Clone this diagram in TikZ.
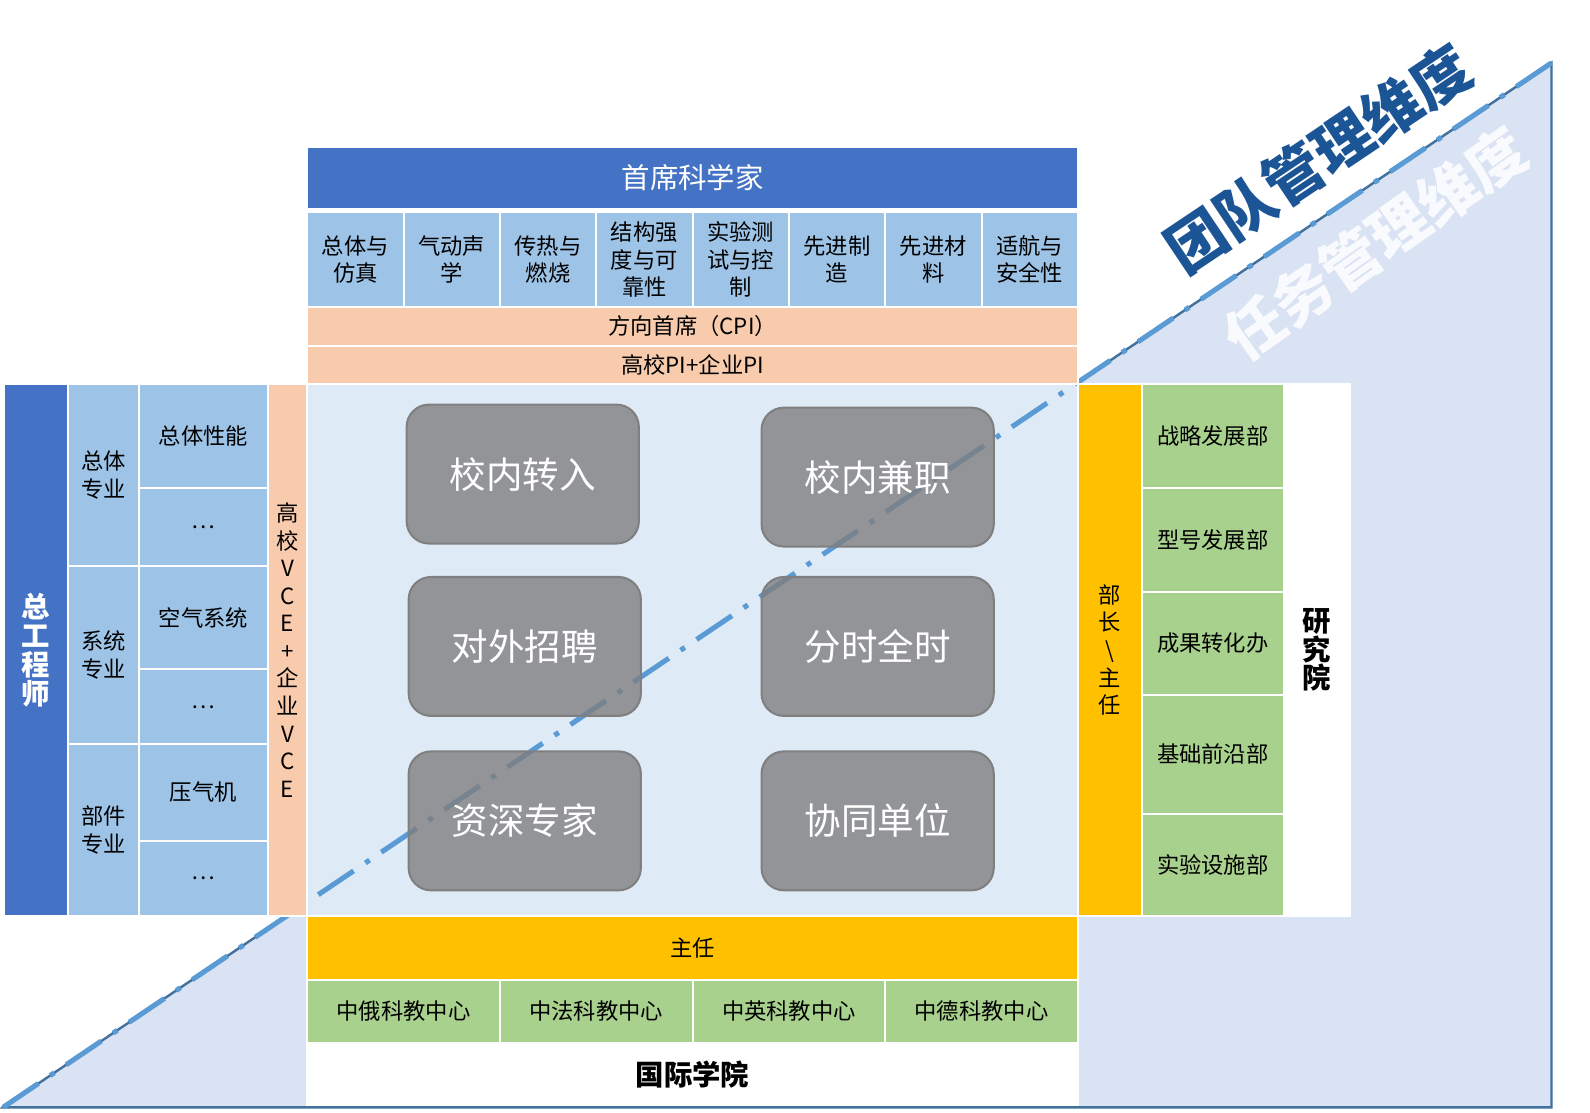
\documentclass[tikz,border=0pt]{standalone}
\usepackage{fontspec}
\setmainfont{Noto Sans CJK SC}
\definecolor{cBlue}{HTML}{4472C4}
\definecolor{cLBlue}{HTML}{9DC3E6}
\definecolor{cPeach}{HTML}{F8CBAD}
\definecolor{cCenter}{HTML}{DEEBF7}
\definecolor{cOrange}{HTML}{FFC000}
\definecolor{cGreen}{HTML}{A9D18E}
\definecolor{cTri}{HTML}{DAE3F3}
\definecolor{cTriLine}{HTML}{41719C}
\definecolor{cDash}{HTML}{5B9BD5}
\definecolor{cTitle}{HTML}{1B5596}
\definecolor{cGray}{HTML}{7F7F7F}
\newcommand\fsS{\fontsize{11pt}{13.6pt}\selectfont}
\newcommand\fsM{\fontsize{14pt}{14.2pt}\selectfont}
\newcommand\fsL{\fontsize{18pt}{20pt}\selectfont}
\newcommand\fsT{\fontsize{29pt}{30pt}\selectfont}
\newcommand\mkcell[7]{\node[cellbase,#6,minimum width={(#4-#2)*0.5pt},minimum height={(#5-#3)*0.5pt}] (#1) at ({(#2+#4)/2},{(#3+#5)/2}) {#7};}
\newcommand\mkgray[6]{\node[graybox,minimum width={(#4-#2)*0.5pt},minimum height={(#5-#3)*0.5pt}] (#1) at ({(#2+#4)/2},{(#3+#5)/2}) {#6};}
\begin{document}
\begin{tikzpicture}[x=0.5pt,y=-0.5pt,
  cellbase/.style={rectangle,draw=white,line width=1pt,inner sep=0pt,align=center,font=\fsS,text=black},
  graybox/.style={rectangle,rounded corners=11pt,draw=cGray,line width=1pt,fill=cGray,fill opacity=0.8,text opacity=1,text=white,font=\fsL,inner sep=0pt},
  dashline/.style={draw=cDash,line width=2.5pt,dash pattern=on 21pt off 7pt on 2.5pt off 7pt},
  triside/.style={draw=cTriLine,line width=1.2pt,fill=cTri}]
\useasboundingbox (0,0) rectangle (1568,1097);
\fill[white] (0,0) rectangle (1568,1097);
% triangle
\coordinate (tA) at (3,1092);
\coordinate (tB) at (1530,1092);
\coordinate (tC) at (1530,62);
\draw[triside] (tA) -- (tB) -- (tC) -- cycle;
% center area
\mkcell{center}{303}{379}{1063}{903}{fill=cCenter}{}
% dash-dot line
\draw[dashline] (tA) -- (tC);
% top block
\mkcell{hdr}{303}{145}{1063}{206}{fill=cBlue,text=white,font=\fsM}{首席科学家}
\mkcell{s1}{303}{209}{398}{303}{fill=cLBlue}{总体与\\仿真}
\mkcell{s2}{398}{209}{493}{303}{fill=cLBlue}{气动声\\学}
\mkcell{s3}{493}{209}{588}{303}{fill=cLBlue}{传热与\\燃烧}
\mkcell{s4}{588}{209}{683}{303}{fill=cLBlue}{结构强\\度与可\\靠性}
\mkcell{s5}{683}{209}{778}{303}{fill=cLBlue}{实验测\\试与控\\制}
\mkcell{s6}{778}{209}{873}{303}{fill=cLBlue}{先进制\\造}
\mkcell{s7}{873}{209}{968}{303}{fill=cLBlue}{先进材\\料}
\mkcell{s8}{968}{209}{1063}{303}{fill=cLBlue}{适航与\\安全性}
\mkcell{cpi}{303}{303}{1063}{341}{fill=cPeach}{方向首席（CPI）}
\mkcell{pi}{303}{341}{1063}{379}{fill=cPeach}{高校PI+企业PI}
% left block
\mkcell{zgcs}{4}{379}{67}{903}{fill=cBlue,text=white,font=\fsM\bfseries}{总\\工\\程\\师}
\mkcell{l1}{67}{379}{137}{558}{fill=cLBlue}{总体\\专业}
\mkcell{l2}{67}{558}{137}{734}{fill=cLBlue}{系统\\专业}
\mkcell{l3}{67}{734}{137}{903}{fill=cLBlue}{部件\\专业}
\mkcell{m1}{137}{379}{264}{481}{fill=cLBlue}{总体性能}
\mkcell{m2}{137}{481}{264}{558}{fill=cLBlue}{…}
\mkcell{m3}{137}{558}{264}{660}{fill=cLBlue}{空气系统}
\mkcell{m4}{137}{660}{264}{734}{fill=cLBlue}{…}
\mkcell{m5}{137}{734}{264}{829}{fill=cLBlue}{压气机}
\mkcell{m6}{137}{829}{264}{903}{fill=cLBlue}{…}
\mkcell{vce}{264}{379}{303}{903}{fill=cPeach}{高\\校\\V\\C\\E\\+\\企\\业\\V\\C\\E}
% right block
\mkcell{bz}{1063}{379}{1126}{903}{fill=cOrange}{部\\长\\\textbackslash\\主\\任}
\mkcell{r1}{1126}{379}{1266}{481}{fill=cGreen}{战略发展部}
\mkcell{r2}{1126}{481}{1266}{584}{fill=cGreen}{型号发展部}
\mkcell{r3}{1126}{584}{1266}{685}{fill=cGreen}{成果转化办}
\mkcell{r4}{1126}{685}{1266}{803}{fill=cGreen}{基础前沿部}
\mkcell{r5}{1126}{803}{1266}{903}{fill=cGreen}{实验设施部}
\mkcell{yjy}{1266}{379}{1331}{903}{fill=white,font=\fsM\bfseries}{研\\究\\院}
% bottom block
\mkcell{zr}{303}{903}{1063}{966}{fill=cOrange}{主任}
\mkcell{b1}{303}{966}{493}{1029}{fill=cGreen}{中俄科教中心}
\mkcell{b2}{493}{966}{683}{1029}{fill=cGreen}{中法科教中心}
\mkcell{b3}{683}{966}{873}{1029}{fill=cGreen}{中英科教中心}
\mkcell{b4}{873}{966}{1063}{1029}{fill=cGreen}{中德科教中心}
\mkcell{gjxy}{303}{1029}{1063}{1090}{fill=white,font=\fsM\bfseries}{国际学院}
% gray boxes
\mkgray{g1}{401}{399}{630}{536}{校内转入}
\mkgray{g2}{751}{402}{980}{539}{校内兼职}
\mkgray{g3}{403}{569}{632}{706}{对外招聘}
\mkgray{g4}{751}{569}{980}{706}{分时全时}
\mkgray{g5}{403}{741}{632}{878}{资深专家}
\mkgray{g6}{751}{741}{980}{878}{协同单位}
% titles
\node[rotate=33.8,font=\fsT\bfseries,text=cTitle,inner sep=0pt] (tteam) at (1300,156) {团队管理维度};
\node[rotate=35,font=\fsT\bfseries,text=white,text opacity=0.85,inner sep=0pt] (ttask) at (1356,240) {任务管理维度};
\end{tikzpicture}
\end{document}
